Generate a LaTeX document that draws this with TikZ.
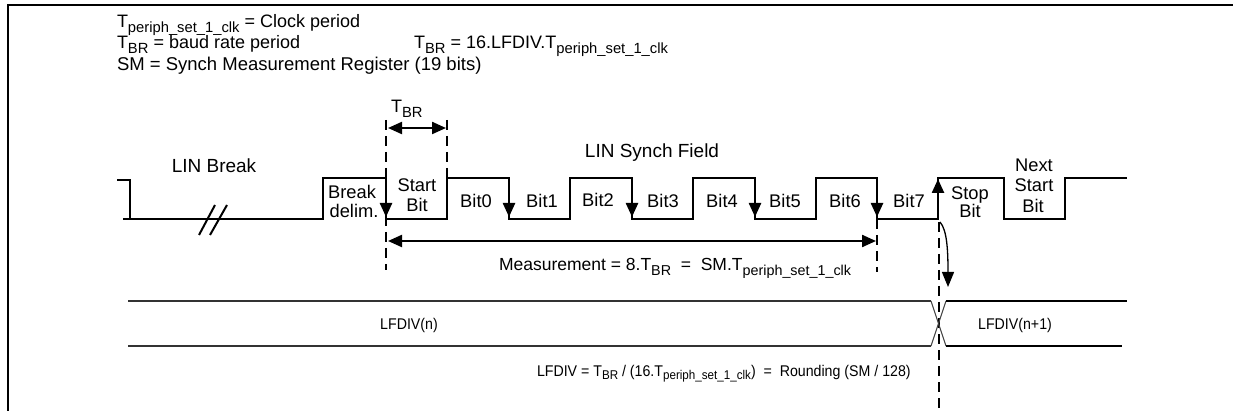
\documentclass[tikz,border=0pt]{standalone}
\usepackage{fontspec}
\setmainfont{Liberation Sans}
\usetikzlibrary{arrows.meta}
\newcommand{\ssub}[1]{\raisebox{-0.24em}{\scalebox{0.82}{#1}}}
\newcommand{\tclk}{T\ssub{periph\_set\_1\_clk}}
\newcommand{\tbr}{T\ssub{BR}}
\newcommand{\cond}[1]{\scalebox{0.915}[1]{#1}}
\begin{document}
\begin{tikzpicture}[x=1pt,y=-1pt,
  every node/.style={inner sep=0pt, outer sep=0pt},
  big/.style={font=\fontsize{18}{21}\selectfont},
  title/.style={font=\fontsize{19}{22}\selectfont},
  mid/.style={font=\fontsize{18.3}{21}\selectfont},
  small/.style={font=\fontsize{15.5}{18}\selectfont},
  frame/.style={line width=2.5pt},
  sig/.style={line width=2.4pt, line join=miter},
  dline/.style={line width=2pt, dash pattern=on 10pt off 6pt},
  edgearr/.style={line width=2.4pt, -{Triangle[length=14pt,width=12pt]}},
  dimarr/.style={line width=2.2pt, {Triangle[length=14pt,width=12pt]}-{Triangle[length=14pt,width=12pt]}},
  busl/.style={line width=2pt, draw=black!80},
  busr/.style={line width=2.4pt, draw=black},
  xline/.style={line width=1pt, draw=black!75},
  brk/.style={line width=2pt}]
\useasboundingbox (0,0) rectangle (1233,411);
% frame
\draw[frame] (8,412) -- (8,5) -- (1235,5);
% legend texts
\node[big, anchor=base west] (l1) at (117,28) {\tclk{} = Clock period};
\node[big, anchor=base west] (l2) at (117,49) {\tbr{} = baud rate period};
\node[big, anchor=base west, font=\fontsize{18.5}{21}\selectfont] (l3) at (117,71) {SM = Synch Measurement Register (19 bits)};
\node[big, anchor=base west] (l4) at (414,49) {\tbr{} = 16.LFDIV.\tclk};
% signal
\draw[sig] (117,180) -- (130,180) -- (130,219);
\draw[sig] (123,219) -- (323,219) -- (323,178) -- (386,178) -- (386,219) -- (447,219) -- (447,178) -- (509,178) -- (509,219) -- (570,219) -- (570,178) -- (632,178) -- (632,219) -- (693,219) -- (693,178) -- (755,178) -- (755,219) -- (816,219) -- (816,178) -- (877,178) -- (877,219) -- (938,219) -- (938,178) -- (1004,178) -- (1004,219) -- (1065,219) -- (1065,178) -- (1127,178);
% edge arrows
\foreach \x in {386,509,632,755,877} \draw[edgearr] (\x,180) -- (\x,217);
\draw[edgearr] (938,219) -- (938,179);
% break marks
\draw[brk] (199,235) -- (215,205);
\draw[brk] (210,235) -- (227,205);
% dashed lines
\coordinate (d1t) at (386,120); \coordinate (d1b) at (386,270);
\coordinate (d2t) at (447,120); \coordinate (d2b) at (447,178);
\coordinate (d3t) at (877,219); \coordinate (d3b) at (877,272);
\coordinate (d4t) at (939,222); \coordinate (d4b) at (939,412);
\draw[dline] (d1t) -- (d1b);
\draw[dline] (d2t) -- (d2b);
\draw[dline] (d3t) -- (d3b);
\draw[dline] (d4t) -- (d4b);
% dimension arrows
\coordinate (a1l) at (388,128); \coordinate (a1r) at (446,128);
\coordinate (a2l) at (388,241); \coordinate (a2r) at (876,241);
\draw[dimarr] (a1l) -- (a1r);
\draw[dimarr] (a2l) -- (a2r);
\node[big, anchor=base west] (tbrlab) at (391,113) {\tbr};
% curved arrow
\coordinate (cs) at (940,222); \coordinate (ce) at (948,287);
\draw[line width=1.3pt, -{Triangle[length=15pt,width=12pt]}] (cs) .. controls (947,230) and (948,250) .. (ce);
% labels
\node[title, anchor=base] (linbreak) at (214,173) {LIN Break};
\node[title, anchor=base] (linsynch) at (652,158) {LIN Synch Field};
\node[mid, anchor=base] (bd1) at (352,199) {Break};
\node[mid, anchor=base] (bd2) at (354,218) {delim.};
\node[mid, anchor=base] (sb1) at (417,192) {Start};
\node[mid, anchor=base] (sb2) at (417,212) {Bit};
\node[mid, anchor=base] (b0) at (476,208) {Bit0};
\node[mid, anchor=base] (b1) at (542,208) {Bit1};
\node[mid, anchor=base] (b2) at (598,207) {Bit2};
\node[mid, anchor=base] (b3) at (663,208) {Bit3};
\node[mid, anchor=base] (b4) at (722,208) {Bit4};
\node[mid, anchor=base] (b5) at (785,208) {Bit5};
\node[mid, anchor=base] (b6) at (845,208) {Bit6};
\node[mid, anchor=base] (b7) at (909,208) {Bit7};
\node[mid, anchor=base] (st1) at (970,200) {Stop};
\node[mid, anchor=base] (st2) at (970,218) {Bit};
\node[mid, anchor=base] (ns1) at (1034,172) {Next};
\node[mid, anchor=base] (ns2) at (1034,192) {Start};
\node[mid, anchor=base] (ns3) at (1033,213) {Bit};
\node[big, font=\fontsize{17.5}{20}\selectfont, anchor=base west] (meas) at (499,271) {Measurement = 8.\tbr{} \ = \ SM.\tclk};
% bus
\draw[busl] (128,301) -- (931,301);
\draw[busl] (128,346) -- (931,346);
\draw[xline] (931,301) -- (946,346);
\draw[xline] (931,346) -- (946,301);
\draw[busr] (946,301) -- (1127,301);
\draw[busr] (946,346) -- (1122,346);
\node[small, anchor=base] (lfn) at (409,329) {\cond{LFDIV(n)}};
\node[small, anchor=base] (lfn1) at (1015,329) {\cond{LFDIV(n+1)}};
\node[small, anchor=base west] (form) at (537,376) {\cond{LFDIV = \tbr{} / (16.\tclk) \ = \ Rounding (SM / 128)}};
\end{tikzpicture}
\end{document}
